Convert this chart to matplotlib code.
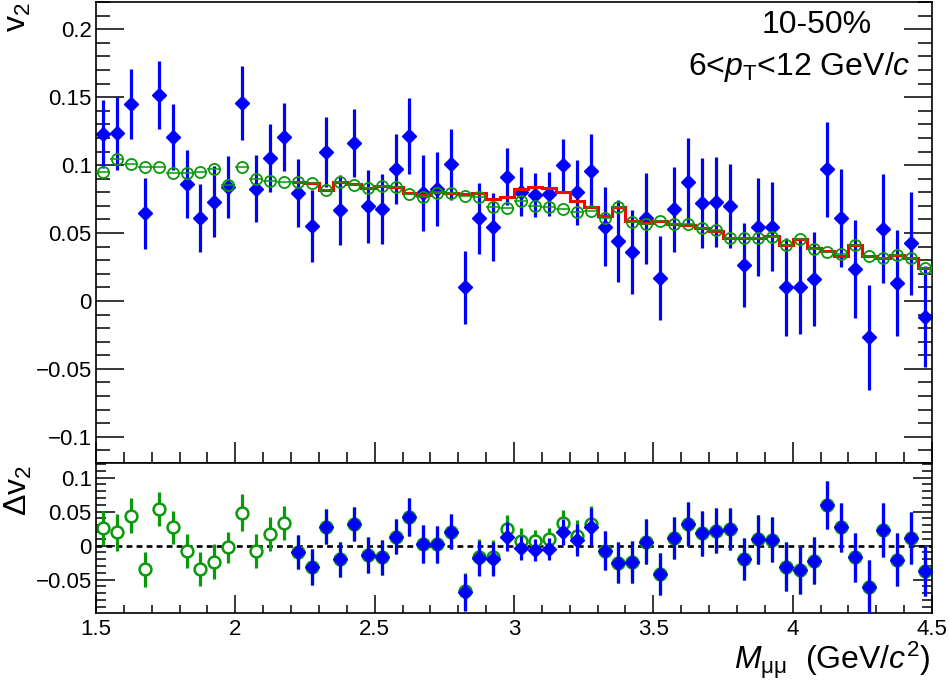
import numpy as np
import matplotlib
matplotlib.use("Agg")
import matplotlib.pyplot as plt
from matplotlib.ticker import MultipleLocator, FuncFormatter

plt.rcParams['font.family'] = ['Liberation Sans', 'DejaVu Sans']
plt.rcParams['mathtext.fontset'] = 'custom'
plt.rcParams['mathtext.rm'] = 'Liberation Sans'
plt.rcParams['mathtext.it'] = 'Liberation Sans:italic'
plt.rcParams['mathtext.bf'] = 'Liberation Sans:bold'

# ---------------- data ----------------
mass_edges = np.linspace(1.5, 4.5, 61)
mass_centers = 0.5 * (mass_edges[:-1] + mass_edges[1:])

v2_data = [0.1228, 0.1233, 0.1449, 0.0645, 0.1515, 0.1208, 0.0858, 0.0608, 0.0730, 0.0840,
           0.1458, 0.0828, 0.1054, 0.1208, 0.0792, 0.0551, 0.1098, 0.0669, 0.1164, 0.0697,
           0.0676, 0.0971, 0.1216, 0.0797, 0.0824, 0.1005, 0.0101, 0.0608, 0.0547, 0.0914,
           0.0804, 0.0779, 0.0787, 0.1000, 0.0799, 0.0956, 0.0547, 0.0443, 0.0358, 0.0608,
           0.0167, 0.0674, 0.0877, 0.0723, 0.0730, 0.0699, 0.0265, 0.0547, 0.0547, 0.0105,
           0.0105, 0.0160, 0.0968, 0.0613, 0.0233, -0.0267, 0.0532, 0.0135, 0.0424, -0.0115]
v2_err = [0.025, 0.027, 0.026, 0.026, 0.025, 0.0245, 0.025, 0.025, 0.026, 0.023,
          0.027, 0.025, 0.025, 0.025, 0.025, 0.0265, 0.026, 0.026, 0.025, 0.027,
          0.026, 0.026, 0.028, 0.028, 0.027, 0.026, 0.027, 0.026, 0.025, 0.021,
          0.018, 0.016, 0.016, 0.019, 0.024, 0.027, 0.029, 0.030, 0.031, 0.0335,
          0.031, 0.031, 0.032, 0.033, 0.033, 0.031, 0.031, 0.036, 0.033, 0.036,
          0.035, 0.0345, 0.035, 0.036, 0.036, 0.0385, 0.040, 0.039, 0.038, 0.037]
v2_model_green = [0.0951, 0.1042, 0.1007, 0.0988, 0.0983, 0.0939, 0.0939, 0.0949, 0.0968, 0.0853,
                  0.0983, 0.0895, 0.0882, 0.0875, 0.0875, 0.0870, 0.0816, 0.0875, 0.0855, 0.0834,
                  0.0850, 0.0840, 0.0787, 0.0767, 0.0797, 0.0792, 0.0772, 0.0767, 0.0689, 0.0681,
                  0.0735, 0.0701, 0.0689, 0.0674, 0.0657, 0.0662, 0.0608, 0.0693, 0.0583, 0.0566,
                  0.0586, 0.0566, 0.0564, 0.0534, 0.0522, 0.0461, 0.0461, 0.0461, 0.0473, 0.0412,
                  0.0456, 0.0380, 0.0363, 0.0343, 0.0412, 0.0331, 0.0314, 0.0338, 0.0319, 0.0245]
# red histogram: bins from 2.2 GeV (bin index 14) up to 4.5, plus the overflow bin (clipped)
red_first_bin = 14
v2_model_red = [0.0875, 0.0870, 0.0816, 0.0875, 0.0860, 0.0833, 0.0848, 0.0836, 0.0797, 0.0779,
                0.0804, 0.0797, 0.0787, 0.0792, 0.0750, 0.0767, 0.0824, 0.0836, 0.0833, 0.0799,
                0.0738, 0.0689, 0.0627, 0.0689, 0.0590, 0.0576, 0.0588, 0.0566, 0.0559, 0.0534,
                0.0517, 0.0461, 0.0461, 0.0461, 0.0478, 0.0412, 0.0456, 0.0387, 0.0368, 0.0331,
                0.0412, 0.0331, 0.0314, 0.0338, 0.0319, 0.0245, 0.0130]

dv2_green = [0.0265, 0.0197, 0.0441, -0.0347, 0.0535, 0.0270, -0.0078, -0.0343, -0.0235, -0.0024,
             0.0485, -0.0073, 0.0172, 0.0338, -0.0088, -0.0320, 0.0279, -0.0200, 0.0315, -0.0137,
             -0.0171, 0.0132, 0.0426, 0.0025, 0.0020, 0.0206, -0.0670, -0.0160, -0.0162, 0.0241,
             0.0074, 0.0074, 0.0099, 0.0338, 0.0143, 0.0315, -0.0074, -0.0250, -0.0235, 0.0059,
             -0.0421, 0.0109, 0.0315, 0.0182, 0.0216, 0.0241, -0.0196, 0.0094, 0.0084, -0.0309,
             -0.0357, -0.0220, 0.0598, 0.0270, -0.0171, -0.0603, 0.0231, -0.0210, 0.0109, -0.0372]
dv2_blue = [-0.0088, -0.0320, 0.0279, -0.0200, 0.0315, -0.0137, -0.0171, 0.0132, 0.0426, 0.0025,
            0.0020, 0.0206, -0.0685, -0.0185, -0.0196, 0.0132, -0.0038, -0.0063, -0.0053, 0.0206,
            0.0084, 0.0279, -0.0074, -0.0250, -0.0235, 0.0059, -0.0421, 0.0109, 0.0315, 0.0182,
            0.0216, 0.0241, -0.0196, 0.0094, 0.0084, -0.0309, -0.0357, -0.0220, 0.0598, 0.0270,
            -0.0171, -0.0603, 0.0231, -0.0210, 0.0109, -0.0372]

label_cent = "10-50%"
label_pt = r"6<$p_{\mathrm{T}}$<12 GeV/$c$"

# ---------------- styling ----------------
BLUE = '#0000ff'
GREEN = '#089a08'
RED = '#ff0000'

W, H = 950, 683
fig = plt.figure(figsize=(W / 100, H / 100), dpi=100)
L, R = 96 / W, 932 / W
ax1 = fig.add_axes([L, 1 - 463.3 / H, R - L, (463.3 - 2) / H])
ax2 = fig.add_axes([L, 1 - 613.3 / H, R - L, (613.3 - 463.3) / H])

def fmt(v, pos):
    if abs(v) < 1e-9:
        return "0"
    return f"{v:g}".replace("-", "\u2212")

x = mass_centers
bw = 0.5 * (mass_edges[1] - mass_edges[0])

# top panel
ax1.errorbar(x, v2_data, yerr=v2_err, xerr=bw * 0.85, fmt='D', color=BLUE, ms=7, elinewidth=2.3,
             capsize=0, zorder=2)
red_edges = np.append(mass_edges[red_first_bin:], mass_edges[-1] + 2 * bw)
ax1.stairs(v2_model_red, red_edges, baseline=None, color=RED, lw=2.2, zorder=3)
ax1.errorbar(x, v2_model_green, xerr=bw, fmt='o', color=GREEN, mfc='none', mec=GREEN,
             ms=8, mew=1.3, elinewidth=1.1, capsize=0, zorder=4)

ax1.set_xlim(1.5, 4.5)
ax1.set_ylim(-0.1195, 0.2201)

# bottom panel
ax2.axhline(0, color='k', ls=(0, (2.2, 1.6)), lw=1.9, zorder=1)
ax2.errorbar(x, dv2_green, yerr=v2_err, fmt='o', color=GREEN, mfc='white', mec=GREEN,
             ms=8.5, mew=1.8, elinewidth=2.3, capsize=0, zorder=2)
ax2.errorbar(x[red_first_bin:], dv2_blue, yerr=v2_err[red_first_bin:], xerr=bw * 0.85, fmt='D',
             color=BLUE, ms=7, elinewidth=2.3, capsize=0, zorder=3)
ax2.set_xlim(1.5, 4.5)
ax2.set_ylim(-0.0994, 0.121)

for ax in (ax1, ax2):
    for s in ax.spines.values():
        s.set_linewidth(1.2)
    ax.xaxis.set_major_locator(MultipleLocator(0.5))
    ax.xaxis.set_minor_locator(MultipleLocator(0.1))
    ax.yaxis.set_major_locator(MultipleLocator(0.05))
    ax.yaxis.set_minor_locator(MultipleLocator(0.01))
    ax.yaxis.set_major_formatter(FuncFormatter(fmt))
    ax.xaxis.set_major_formatter(FuncFormatter(fmt))
    ax.tick_params(which='both', direction='in', left=True, right=True, top=False,
                   bottom=True, width=1.1, labelsize=16, colors='k')

ax1.tick_params(axis='y', which='major', length=20, pad=3)
ax1.tick_params(axis='y', which='minor', length=10)
ax1.tick_params(axis='x', which='major', length=15, labelbottom=False)
ax1.tick_params(axis='x', which='minor', length=8)
ax2.tick_params(axis='y', which='major', length=14, pad=3)
ax2.tick_params(axis='y', which='minor', length=7)
ax2.tick_params(axis='x', which='major', length=13, pad=4)
ax2.tick_params(axis='x', which='minor', length=6)

# texts
ax1.text((762 - 96) / 836, 1 - 31 / 461.3, label_cent, transform=ax1.transAxes,
         fontsize=23, ha='left', va='baseline')
ax1.text((688 - 96) / 836, 1 - 73 / 461.3, label_pt, transform=ax1.transAxes,
         fontsize=23, ha='left', va='baseline')

fig.text(18 / W, 1 - 2 / H, r"v$_{2}$", rotation=90, ha='center', va='top', fontsize=23)
fig.text(18 / W, 1 - 465 / H, r"$\Delta$v$_{2}$", rotation=90, ha='center', va='top', fontsize=23)
fig.text(930 / W, 1 - 669 / H, r"$M_{\mathrm{μμ}}$  (GeV/$c^{2}$)", ha='right', va='baseline',
         fontsize=23)

fig.savefig("out.png", dpi=100)
